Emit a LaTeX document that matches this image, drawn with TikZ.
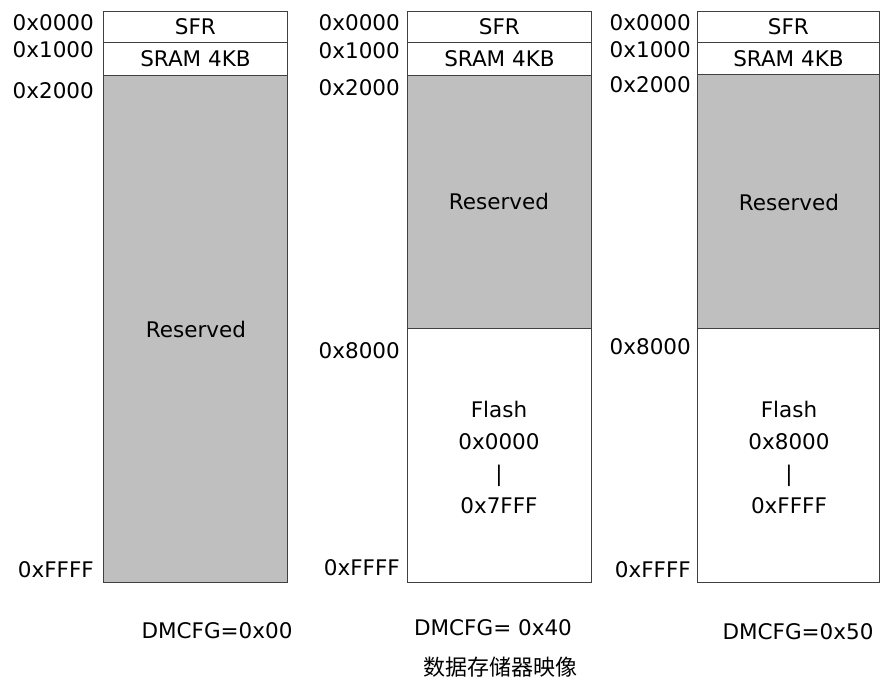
\documentclass[tikz,border=0pt]{standalone}
\usepackage{fontspec}
\setmainfont{DejaVu Sans}
\newfontfamily\cjk{Noto Sans CJK SC}
\usetikzlibrary{positioning}
\definecolor{resgray}{RGB}{191,191,191}
\definecolor{edge}{RGB}{64,64,64}

\begin{document}
\begin{tikzpicture}[x=1pt, y=-1pt,
    blk/.style={draw=edge, line width=0.9pt, rectangle, inner sep=0pt, anchor=north west, font=\fontsize{21.5}{24}\selectfont},
    res/.style={blk, fill=resgray},
    addr/.style={anchor=east, inner sep=0pt, font=\fontsize{21.5}{24}\selectfont},
    txt/.style={inner sep=0pt, align=center, font=\fontsize{21.5}{32}\selectfont}]
    \useasboundingbox (0,0) rectangle (881,682);

    % DMCFG = 0x00
    \node[blk, minimum width=184pt, minimum height=31pt] (sfrA) at (103,11) {SFR};
    \node[blk, minimum width=184pt, minimum height=33pt] (sramA) at (103,42) {SRAM 4KB};
    \node[res, minimum width=184pt, minimum height=507pt] (resA) at (103,75) {};
    \node[txt] (resAt) at (196,329) {Reserved};
    \node[addr] (a0) at (94,23) {0x0000};
    \node[addr] (a1) at (94,50) {0x1000};
    \node[addr] (a2) at (94,91) {0x2000};
    \node[addr] (a3) at (94,570) {0xFFFF};

    % DMCFG = 0x40
    \node[blk, minimum width=184pt, minimum height=31pt] (sfrB) at (407,11) {SFR};
    \node[blk, minimum width=184pt, minimum height=33pt] (sramB) at (407,42) {SRAM 4KB};
    \node[res, minimum width=184pt, minimum height=253pt] (resB) at (407,75) {};
    \node[blk, minimum width=184pt, minimum height=254pt] (flashB) at (407,328) {};
    \node[txt] (resBt) at (499,201) {Reserved};
    \node[txt] (flashBt) at (499,457) {Flash\\0x0000\\|\\0x7FFF};
    \node[addr] (b0) at (400,23) {0x0000};
    \node[addr] (b1) at (400,51) {0x1000};
    \node[addr] (b2) at (400,88) {0x2000};
    \node[addr] (b3) at (400,351) {0x8000};
    \node[addr] (b4) at (400,568) {0xFFFF};

    % DMCFG = 0x50
    \node[blk, minimum width=182pt, minimum height=31pt] (sfrC) at (697,11) {SFR};
    \node[blk, minimum width=182pt, minimum height=32pt] (sramC) at (697,42) {SRAM 4KB};
    \node[res, minimum width=182pt, minimum height=254pt] (resC) at (697,74) {};
    \node[blk, minimum width=182pt, minimum height=254pt] (flashC) at (697,328) {};
    \node[txt] (resCt) at (789,202) {Reserved};
    \node[txt] (flashCt) at (789,457) {Flash\\0x8000\\|\\0xFFFF};
    \node[addr] (c0) at (691,23) {0x0000};
    \node[addr] (c1) at (691,50) {0x1000};
    \node[addr] (c2) at (691,85) {0x2000};
    \node[addr] (c3) at (691,347) {0x8000};
    \node[addr] (c4) at (691,570) {0xFFFF};

    % captions
    \node[txt] (capA) at (217,631) {DMCFG=0x00};
    \node[txt] (capB) at (493,628) {DMCFG= 0x40};
    \node[txt] (capC) at (798,632) {DMCFG=0x50};
    \node[txt, font=\cjk\fontsize{22}{24}\selectfont] (title) at (500,667) {数据存储器映像};
\end{tikzpicture}
\end{document}
